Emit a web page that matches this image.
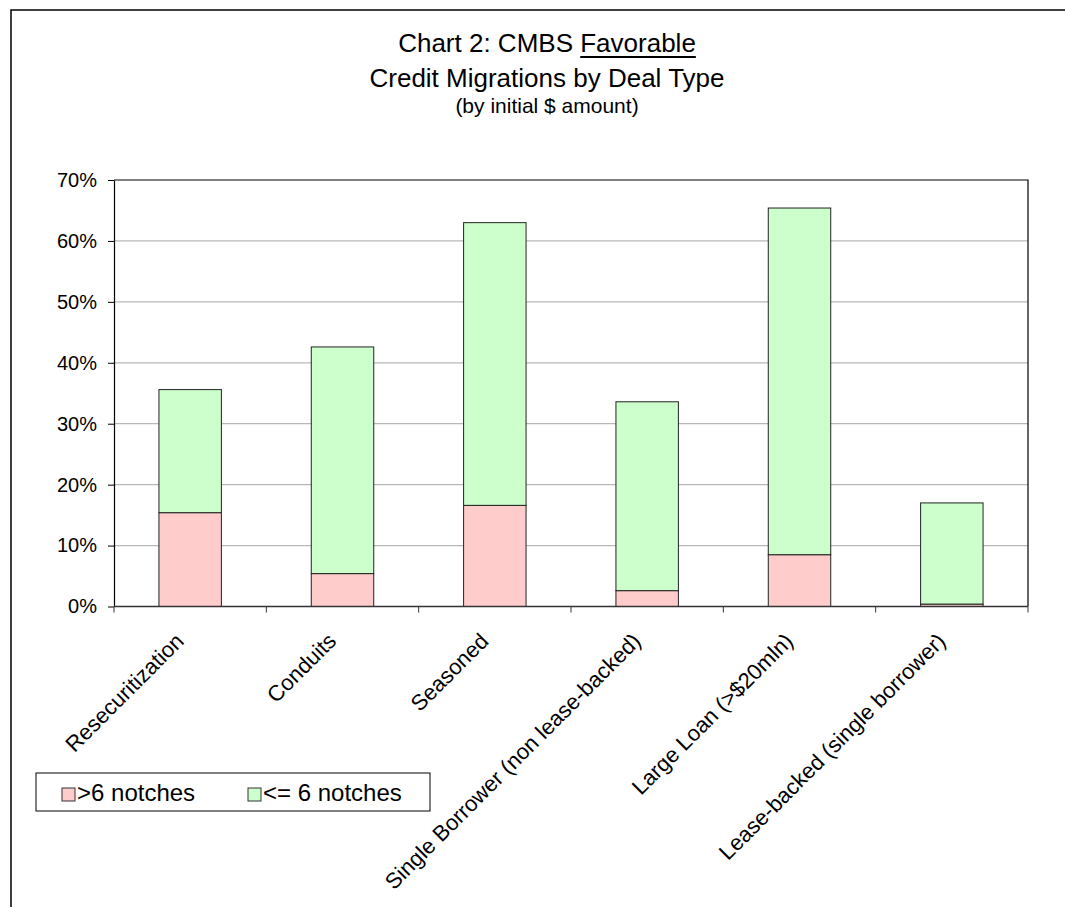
<!DOCTYPE html>
<html>
<head>
<meta charset="utf-8">
<script src="https://cdn.jsdelivr.net/npm/d3@7"></script>
<style>
  body { margin: 0; background: #fff; }
  text { font-family: "Liberation Sans", Arial, sans-serif; fill: #000; }
</style>
</head>
<body>
<div id="main-chart"></div>
<script>
const width = 1065;
const height = 907;
const plot = { left: 114, right: 1028, top: 180, bottom: 606.5 };

const categories = [
  "Resecuritization",
  "Conduits",
  "Seasoned",
  "Single Borrower (non lease-backed)",
  "Large Loan (>$20mln)",
  "Lease-backed (single borrower)",
];
const seriesNames = [">6 notches", "<= 6 notches"];
const over6Notches = [0.154, 0.054, 0.166, 0.026, 0.085, 0.004];
const upTo6Notches = [0.202, 0.372, 0.464, 0.31, 0.569, 0.166];
const yTicks = [0, 0.1, 0.2, 0.3, 0.4, 0.5, 0.6, 0.7];
const colors = ["#ffcccc", "#ccffcc"];

const rows = categories.map((c, i) => ({
  category: c,
  [seriesNames[0]]: over6Notches[i],
  [seriesNames[1]]: upTo6Notches[i],
}));

const svg = d3
  .select("#main-chart")
  .append("svg")
  .attr("width", width)
  .attr("height", height);

// outer chart frame (runs off the right and bottom)
svg
  .append("rect")
  .attr("x", 11)
  .attr("y", 10)
  .attr("width", width + 20)
  .attr("height", height + 20)
  .attr("fill", "white")
  .attr("stroke", "black")
  .attr("stroke-width", 1.5);

// title
const title = svg
  .append("text")
  .attr("x", 547)
  .attr("y", 52)
  .attr("text-anchor", "middle")
  .style("font-size", "26px");
title.append("tspan").text("Chart 2: CMBS ");
title.append("tspan").text("Favorable");

const titleNode = title.node();
const startIdx = "Chart 2: CMBS ".length;
const endIdx = startIdx + "Favorable".length - 1;
const uStart = titleNode.getStartPositionOfChar(startIdx).x;
const uEnd = titleNode.getEndPositionOfChar(endIdx).x;
svg
  .append("line")
  .attr("x1", uStart)
  .attr("x2", uEnd)
  .attr("y1", 57)
  .attr("y2", 57)
  .attr("stroke", "black")
  .attr("stroke-width", 2);

svg
  .append("text")
  .attr("x", 547)
  .attr("y", 87)
  .attr("text-anchor", "middle")
  .style("font-size", "26px")
  .text("Credit Migrations by Deal Type");

svg
  .append("text")
  .attr("x", 547)
  .attr("y", 113)
  .attr("text-anchor", "middle")
  .style("font-size", "21px")
  .text("(by initial $ amount)");

const x = d3
  .scaleBand()
  .domain(categories)
  .range([plot.left, plot.right])
  .paddingInner(0.59)
  .paddingOuter(0.295);

const xTickScale = d3
  .scaleBand()
  .domain(categories)
  .range([plot.left, plot.right]);

const y = d3
  .scaleLinear()
  .domain([0, 0.7])
  .range([plot.bottom, plot.top]);

// gridlines
svg
  .append("g")
  .selectAll("line")
  .data(yTicks.filter((d) => d > 0 && d < 0.7))
  .join("line")
  .attr("x1", plot.left)
  .attr("x2", plot.right)
  .attr("y1", (d) => y(d))
  .attr("y2", (d) => y(d))
  .attr("stroke", "#b8b8b8")
  .attr("stroke-width", 1.2);

// plot area top/right border
svg
  .append("path")
  .attr("d", `M${plot.left},${plot.top}H${plot.right}V${plot.bottom}`)
  .attr("fill", "none")
  .attr("stroke", "black")
  .attr("stroke-width", 1.2);

// stacked bars
const stacked = d3.stack().keys(seriesNames)(rows);

svg
  .append("g")
  .selectAll("g")
  .data(stacked)
  .join("g")
  .attr("fill", (d, i) => colors[i])
  .selectAll("rect")
  .data((d) => d)
  .join("rect")
  .attr("x", (d) => x(d.data.category))
  .attr("width", x.bandwidth())
  .attr("y", (d) => y(d[1]))
  .attr("height", (d) => y(d[0]) - y(d[1]))
  .attr("stroke", "#222")
  .attr("stroke-width", 1);

// y axis
const yAxis = svg
  .append("g")
  .attr("transform", `translate(${plot.left},0)`)
  .call(
    d3
      .axisLeft(y)
      .tickValues(yTicks)
      .tickFormat(d3.format(".0%"))
      .tickSize(6)
      .tickSizeOuter(0)
      .tickPadding(11)
  );
yAxis.select(".domain").attr("stroke", "black").attr("stroke-width", 1.2);
yAxis.selectAll(".tick line").attr("stroke", "black");
yAxis
  .selectAll(".tick text")
  .style("font-size", "20px")
  .style("font-family", '"Liberation Sans", Arial, sans-serif');

// x axis line and ticks at band edges
svg
  .append("line")
  .attr("x1", plot.left)
  .attr("x2", plot.right)
  .attr("y1", plot.bottom)
  .attr("y2", plot.bottom)
  .attr("stroke", "#333")
  .attr("stroke-width", 1.5);

svg
  .append("g")
  .selectAll("line")
  .data(categories.map((c) => xTickScale(c)).concat([plot.right]))
  .join("line")
  .attr("x1", (d) => d)
  .attr("x2", (d) => d)
  .attr("y1", plot.bottom)
  .attr("y2", plot.bottom + 6)
  .attr("stroke", "#333")
  .attr("stroke-width", 1);

// category labels
svg
  .append("g")
  .selectAll("text")
  .data(categories)
  .join("text")
  .attr(
    "transform",
    (d) =>
      `translate(${xTickScale(d) + xTickScale.bandwidth() / 2 - 5}, ${
        plot.bottom + 36
      }) rotate(-45)`
  )
  .attr("text-anchor", "end")
  .style("font-size", "22px")
  .text((d) => d);

// legend
const legend = svg.append("g").attr("transform", "translate(36,773)");
legend
  .append("rect")
  .attr("width", 394)
  .attr("height", 38)
  .attr("fill", "white")
  .attr("stroke", "black")
  .attr("stroke-width", 1);

const legendItems = legend
  .selectAll(".item")
  .data(seriesNames)
  .join("g")
  .attr("class", "item")
  .attr("transform", (d, i) => `translate(${[26, 212][i]}, 0)`);

legendItems
  .append("rect")
  .attr("y", 15)
  .attr("width", 13)
  .attr("height", 13)
  .attr("fill", (d, i) => colors[i])
  .attr("stroke", "#333");

legendItems
  .append("text")
  .attr("x", 15)
  .attr("y", 28)
  .style("font-size", "24px")
  .text((d) => d);
</script>
</body>
</html>
